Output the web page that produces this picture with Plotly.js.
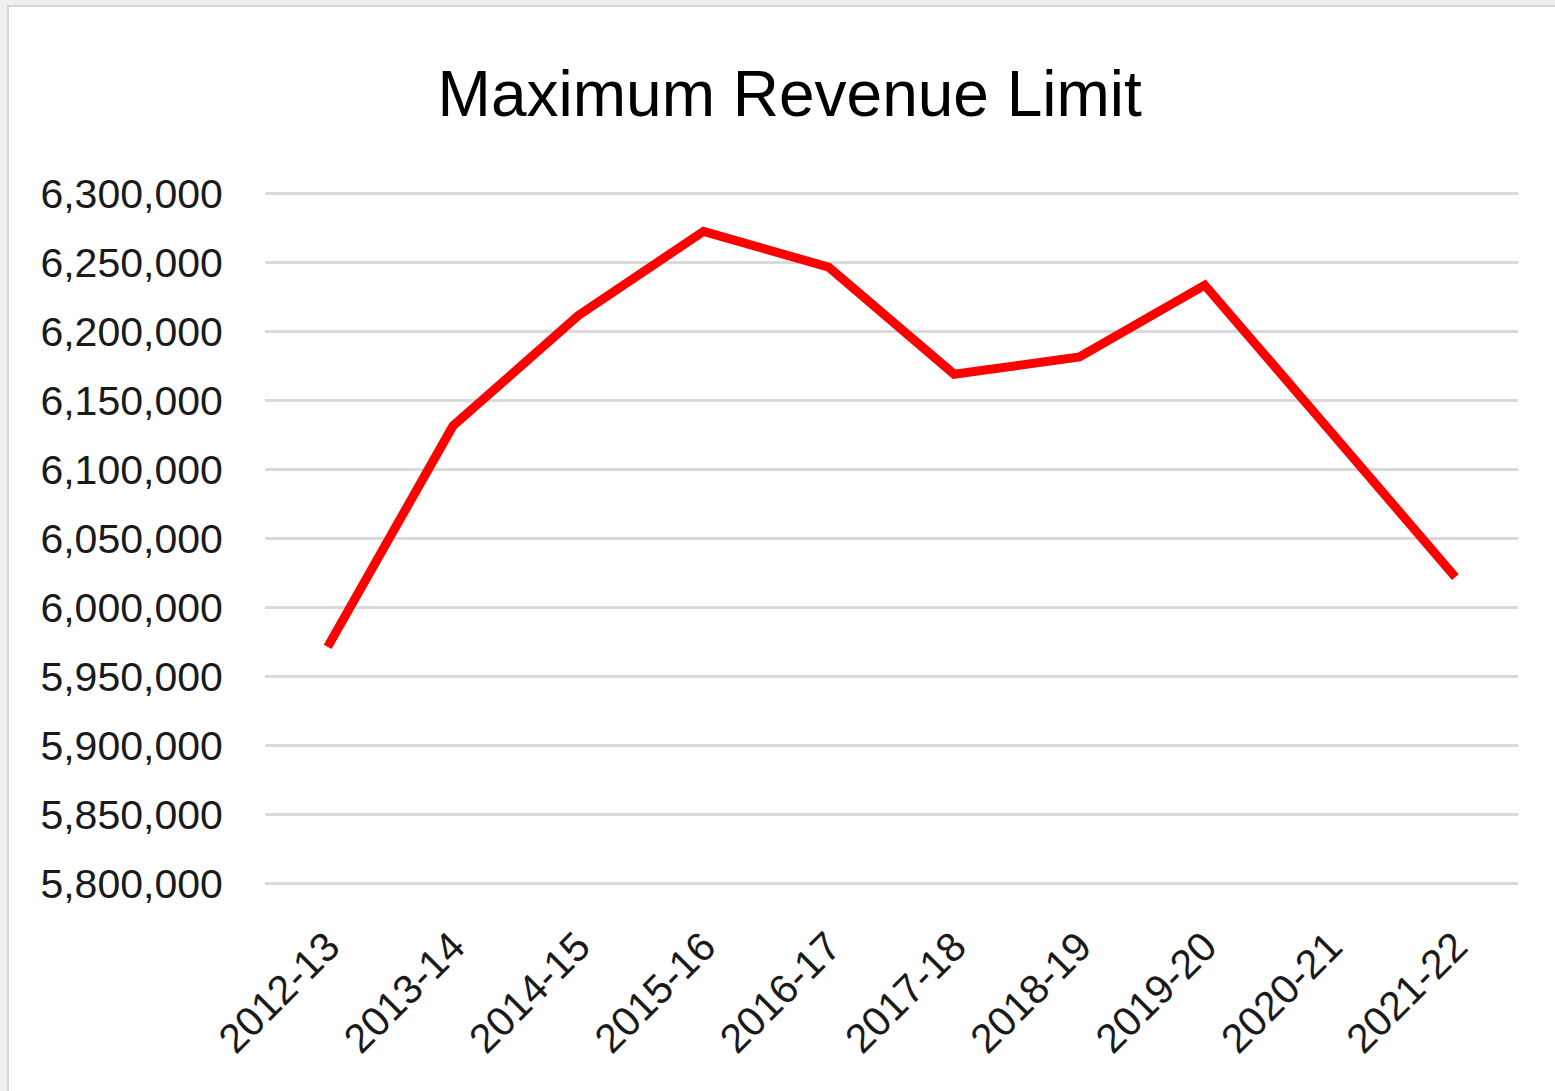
<!DOCTYPE html>
<html>
<head>
<meta charset="utf-8">
<script src="https://cdn.plot.ly/plotly-3.0.1.min.js"></script>
<style>
  html, body { margin: 0; padding: 0; background: #efefef; width: 1555px; height: 1091px; overflow: hidden; }
  #frame { position: absolute; left: 7px; top: 5px; width: 1548px; height: 1086px; border-left: 2px solid #d6d6d6; border-top: 2px solid #d6d6d6; background: #fff; }
  #chart { width: 1546px; height: 1084px; }
</style>
</head>
<body>
<div id="frame"><div id="chart"></div></div>
<script>
const categories = ["2012-13", "2013-14", "2014-15", "2015-16", "2016-17", "2017-18", "2018-19", "2019-20", "2020-21", "2021-22"];
const maxRevenueLimit = [5971500, 6131500, 6211500, 6272500, 6246500, 6169000, 6181500, 6233500, 6128000, 6022000];
const yTickValues = [5800000, 5850000, 5900000, 5950000, 6000000, 6050000, 6100000, 6150000, 6200000, 6250000, 6300000];

const font = "Liberation Sans, Arial, sans-serif";

Plotly.newPlot("chart", [{
  type: "scatter",
  mode: "lines",
  x: categories,
  y: maxRevenueLimit,
  line: { color: "#ff0000", width: 9 },
  hoverinfo: "x+y"
}], {
  width: 1546,
  height: 1084,
  margin: { l: 256, r: 37, t: 185, b: 206 },
  paper_bgcolor: "#ffffff",
  plot_bgcolor: "#ffffff",
  showlegend: false,
  title: {
    text: "Maximum Revenue Limit",
    font: { family: font, size: 64, color: "#000000" },
    x: 0.505, xanchor: "center",
    y: 0.92, yanchor: "middle"
  },
  xaxis: {
    type: "category",
    range: [-0.5, 9.5],
    showgrid: false,
    zeroline: false,
    showline: false,
    ticks: "outside",
    ticklen: 20,
    tickcolor: "rgba(0,0,0,0)",
    tickangle: -45,
    tickfont: { family: font, size: 41, color: "#1a1a1a" }
  },
  yaxis: {
    range: [5799000, 6301000],
    tickvals: yTickValues,
    tickformat: ",d",
    showgrid: true,
    gridcolor: "#d9d9d9",
    gridwidth: 3,
    zeroline: false,
    showline: false,
    ticks: "outside",
    ticklen: 33,
    tickcolor: "rgba(0,0,0,0)",
    tickfont: { family: font, size: 41, color: "#1a1a1a" }
  }
}, { displayModeBar: false, staticPlot: true });
</script>
</body>
</html>
